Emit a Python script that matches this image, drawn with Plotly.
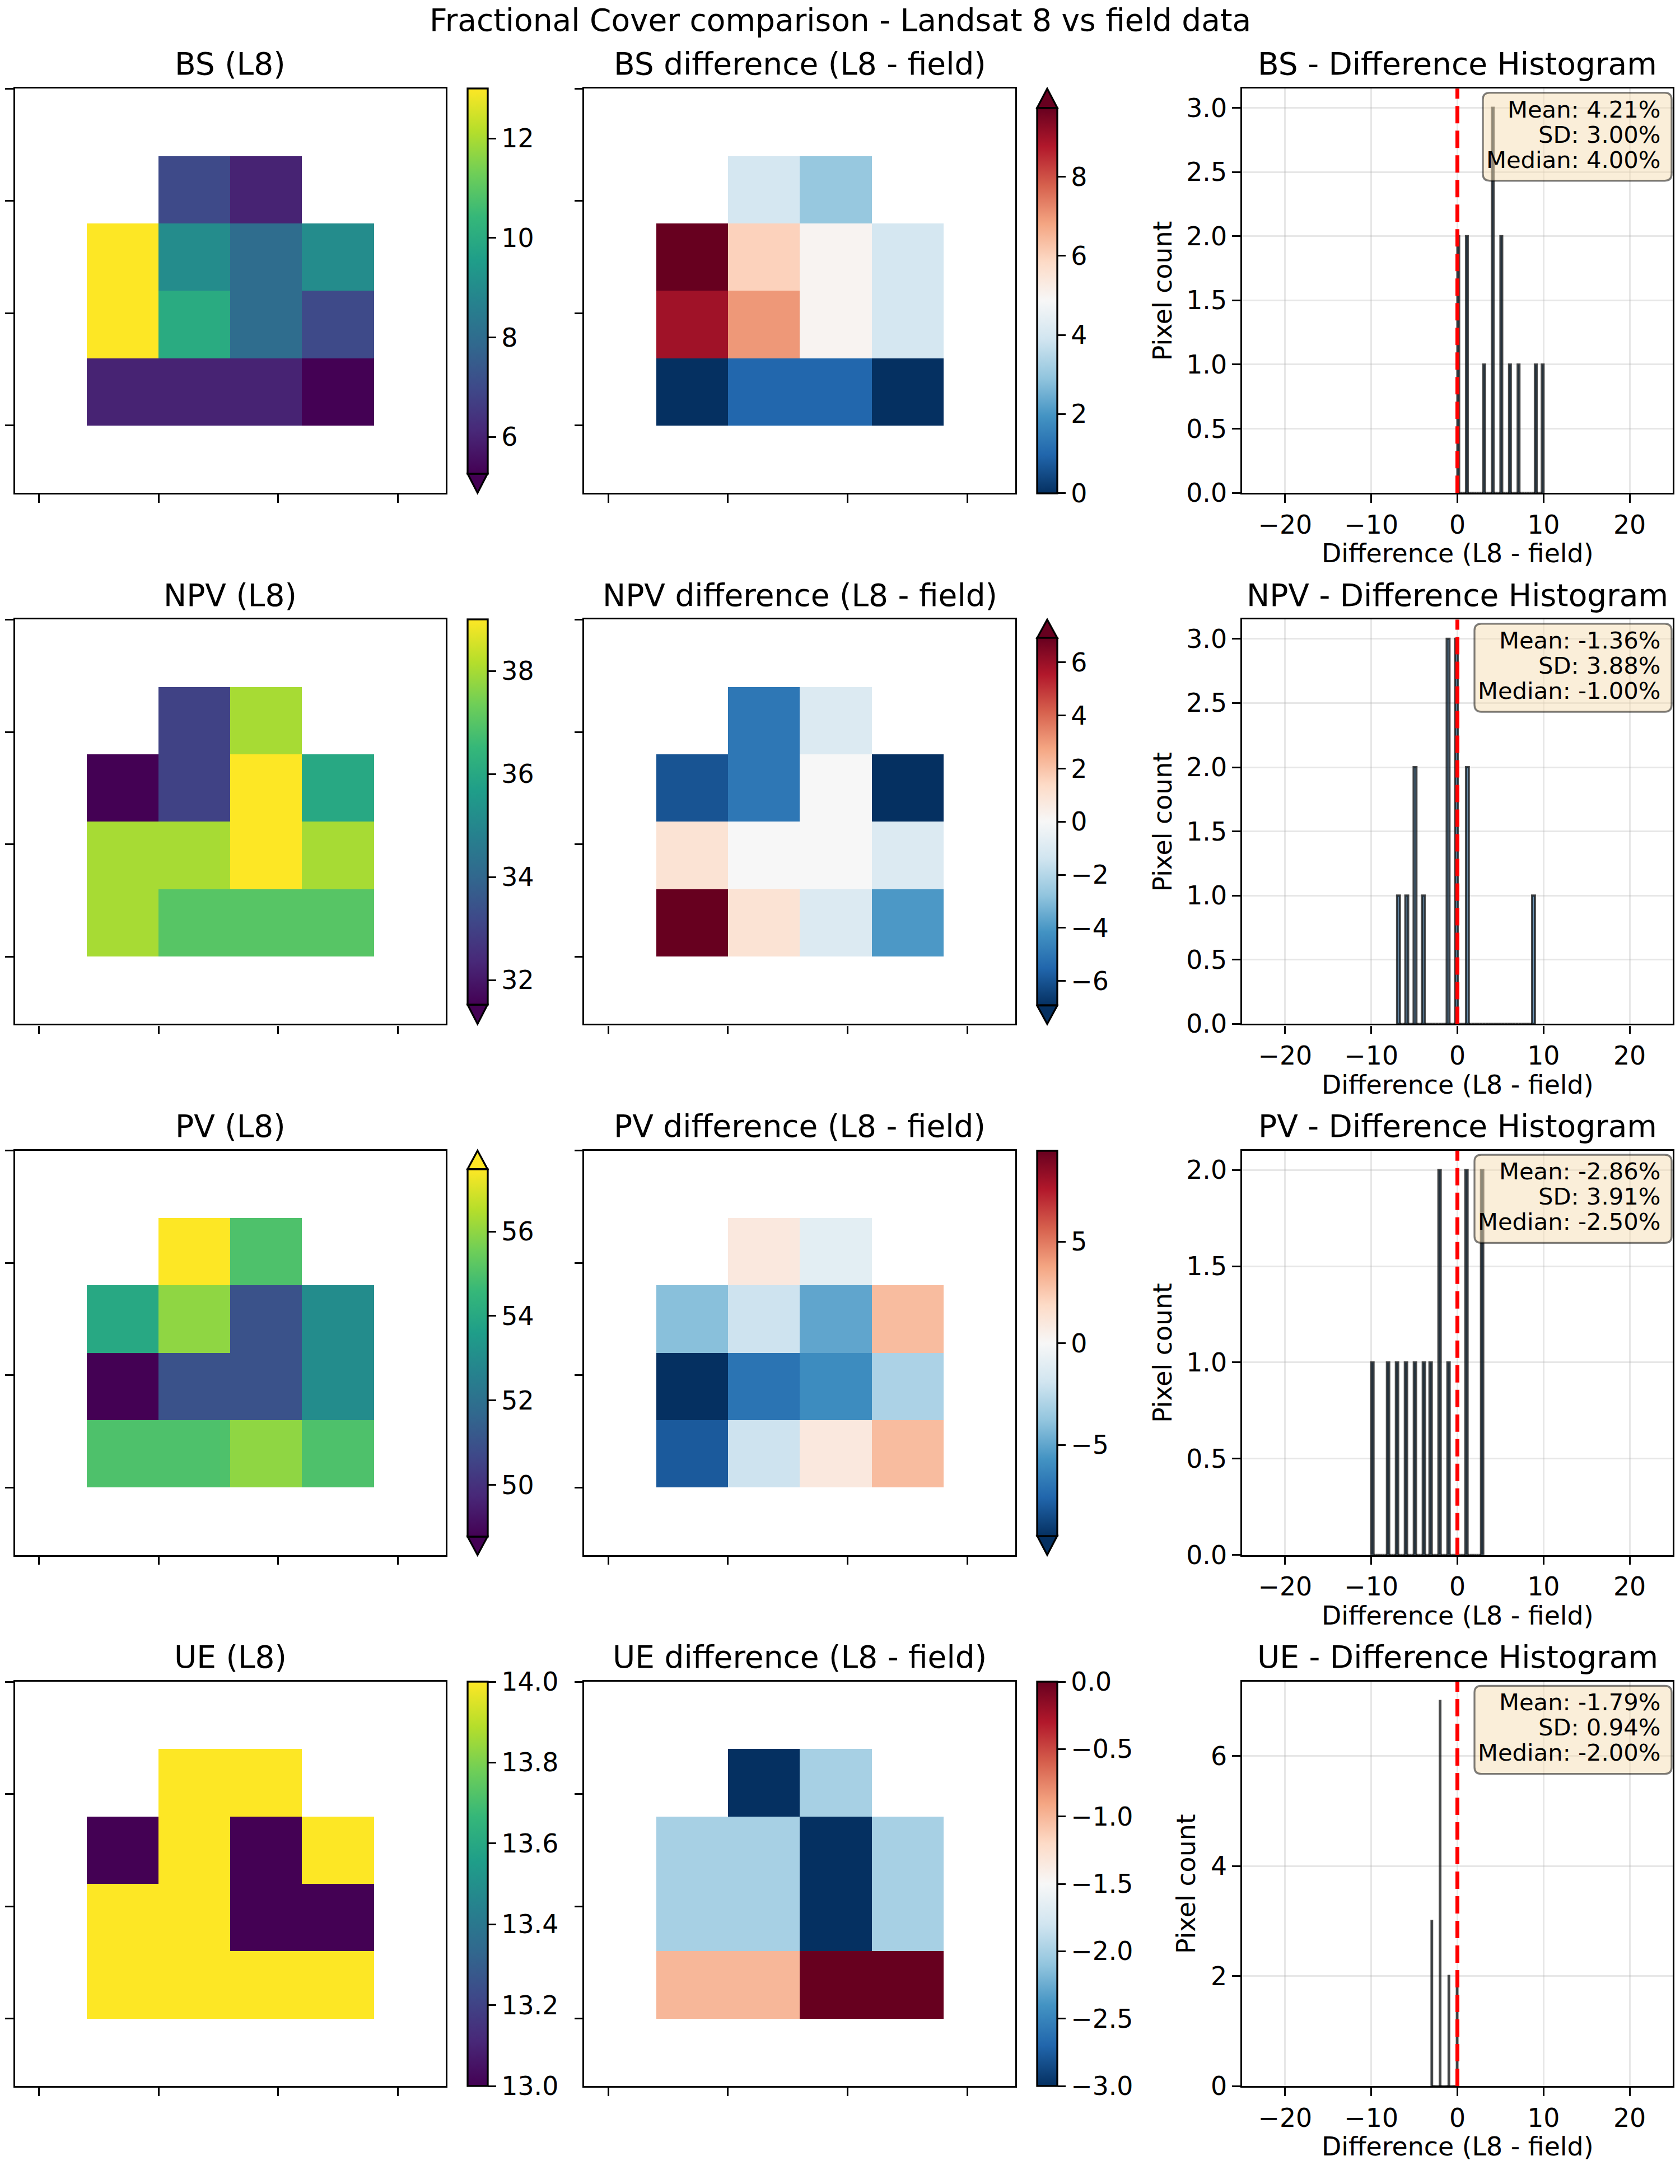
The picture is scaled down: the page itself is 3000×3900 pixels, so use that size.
import numpy as np
import plotly.graph_objects as go

W, H = 3000, 3900
FONT = "DejaVu Sans"
N = None

# ---------------- data ----------------
components = ["BS", "NPV", "PV", "UE"]

bs_l8 = [[N, N, N, N, N, N],
         [N, N, 7, 6, N, N],
         [N, 13, 9, 8, 9, N],
         [N, 13, 10, 8, 7, N],
         [N, 6, 6, 6, 5, N],
         [N, N, N, N, N, N]]
bs_diff = [[N, N, N, N, N, N],
           [N, N, 4, 3, N, N],
           [N, 10, 6, 5, 4, N],
           [N, 9, 7, 5, 4, N],
           [N, 0, 1, 1, 0, N],
           [N, N, N, N, N, N]]
npv_l8 = [[N, N, N, N, N, N],
          [N, N, 33, 38, N, N],
          [N, 31, 33, 39, 36, N],
          [N, 38, 38, 39, 38, N],
          [N, 38, 37, 37, 37, N],
          [N, N, N, N, N, N]]
npv_diff = [[N, N, N, N, N, N],
            [N, N, -5, -1, N, N],
            [N, -6, -5, 0, -7, N],
            [N, 1, 0, 0, -1, N],
            [N, 9, 1, -1, -4, N],
            [N, N, N, N, N, N]]
pv_l8 = [[N, N, N, N, N, N],
         [N, N, 58, 55, N, N],
         [N, 54, 56, 51, 53, N],
         [N, 48, 51, 51, 53, N],
         [N, 55, 55, 56, 55, N],
         [N, N, N, N, N, N]]
pv_diff = [[N, N, N, N, N, N],
           [N, N, 1, -1, N, N],
           [N, -4, -2, -5, 3, N],
           [N, -10, -7, -6, -3, N],
           [N, -8, -2, 1, 3, N],
           [N, N, N, N, N, N]]
ue_l8 = [[N, N, N, N, N, N],
         [N, N, 14, 14, N, N],
         [N, 13, 14, 13, 14, N],
         [N, 14, 14, 13, 13, N],
         [N, 14, 14, 14, 14, N],
         [N, N, N, N, N, N]]
ue_diff = [[N, N, N, N, N, N],
           [N, N, -3, -2, N, N],
           [N, -2, -2, -3, -2, N],
           [N, -2, -2, -3, -2, N],
           [N, -1, -1, 0, 0, N],
           [N, N, N, N, N, N]]

l8_grids = [bs_l8, npv_l8, pv_l8, ue_l8]
diff_grids = [bs_diff, npv_diff, pv_diff, ue_diff]

# tick labels
cb_ticks_l8 = [[6, 8, 10, 12], [32, 34, 36, 38], [50, 52, 54, 56],
               [13.0, 13.2, 13.4, 13.6, 13.8, 14.0]]
cb_ticks_diff = [[0, 2, 4, 6, 8], [-6, -4, -2, 0, 2, 4, 6], [-5, 0, 5],
                 [-3.0, -2.5, -2.0, -1.5, -1.0, -0.5, 0.0]]
cb_fmt = ["{:.0f}", "{:.0f}", "{:.0f}", "{:.1f}"]
hist_yticks = [[0, 0.5, 1.0, 1.5, 2.0, 2.5, 3.0], [0, 0.5, 1.0, 1.5, 2.0, 2.5, 3.0],
               [0, 0.5, 1.0, 1.5, 2.0], [0, 2, 4, 6]]
hist_yfmt = ["{:.1f}", "{:.1f}", "{:.1f}", "{:.0f}"]
hist_xticks = [-20, -10, 0, 10, 20]
map_xticks = [-1 / 6, 1.5, 19 / 6, 29 / 6]
map_yticks = [-0.5, 7 / 6, 17 / 6, 4.5]

# ---------------- styles / layout ----------------
VIRIDIS = ['#440154', '#482878', '#3e4989', '#31688e', '#26828e',
           '#1f9e89', '#35b779', '#6ece58', '#b5de2b', '#fde725']
RDBU_R = ['rgb(5,48,97)', 'rgb(33,102,172)', 'rgb(67,147,195)', 'rgb(146,197,222)',
          'rgb(209,229,240)', 'rgb(247,247,247)', 'rgb(253,219,199)', 'rgb(244,165,130)',
          'rgb(214,96,77)', 'rgb(178,24,43)', 'rgb(103,0,31)']


def scale(cols):
    n = len(cols) - 1
    return [[i / n, c] for i, c in enumerate(cols)]


def minus(s):
    return s.replace("-", "\u2212")


AX_H = 727.0
ROW_TOP = [159.3 + r * 954.9 for r in range(4)]
COL_X = [(26.8, 796.0), (1043.4, 1813.0), (2218.0, 2987.0)]
CB_X = [(835.0, 870.5), (1852.0, 1888.0)]
LW = 3.3
TICK_FS = 45.8
LABEL_FS = 45.8
BOX_FS = 41.7
TITLE_FS = 55
BOX_LEFT = [2648, 2633, 2633, 2633]
YLABEL_X = [2076, 2076, 2076, 2118]


def px_x(x):
    return x / W


def px_y(y):
    return 1 - y / H


fig = go.Figure()
layout = dict(width=W, height=H, margin=dict(l=0, r=0, t=0, b=0),
              paper_bgcolor='white', plot_bgcolor='white', showlegend=False,
              font=dict(family=FONT, color='black', size=TICK_FS))
shapes = []
annotations = []

annotations.append(dict(text="Fractional Cover comparison - Landsat 8 vs field data",
                        x=0.5, y=px_y(55.8 - 0.35 * TITLE_FS), xref='paper', yref='paper',
                        xanchor='center', yanchor='middle', showarrow=False,
                        font=dict(size=TITLE_FS, family=FONT, color='black')))


def cbar_geom(top, ext):
    n = (ext in ('min', 'both')) + (ext in ('max', 'both'))
    body = AX_H / (1 + 0.05 * n)
    tri = body * 0.05
    btop = top + (tri if ext in ('max', 'both') else 0)
    return btop, body, tri


for r, comp in enumerate(components):
    top = ROW_TOP[r]
    bot = top + AX_H
    ydom = [px_y(bot), px_y(top)]
    panels = [(l8_grids[r], False, VIRIDIS, f"{comp} (L8)", cb_ticks_l8[r]),
              (diff_grids[r], True, RDBU_R, f"{comp} difference (L8 - field)", cb_ticks_diff[r])]
    for c, (grid, is_diff, cols, title, cticks) in enumerate(panels):
        k = r * 3 + c + 1
        vals = np.array([v for row in grid for v in row if v is not None], dtype=float)
        lo, hi = np.percentile(vals, [2, 98])
        if is_diff and lo < 0 < hi:
            m = max(abs(lo), abs(hi))
            lo, hi = -m, m
        ext_min = vals.min() < lo
        ext_max = vals.max() > hi
        ext = 'both' if (ext_min and ext_max) else 'min' if ext_min else 'max' if ext_max else 'neither'
        btop, blen, tri = cbar_geom(top, ext)
        cx0, cx1 = CB_X[c]
        fig.add_trace(go.Heatmap(
            z=grid, x=list(range(6)), y=list(range(6)),
            xaxis=f"x{k}", yaxis=f"y{k}", colorscale=scale(cols), zmin=lo, zmax=hi,
            hoverongaps=False,
            colorbar=dict(x=px_x(cx0), xanchor='left', y=px_y(btop), yanchor='top',
                          len=blen / H, lenmode='fraction', thickness=cx1 - cx0,
                          thicknessmode='pixels', xpad=0, ypad=0,
                          outlinewidth=LW, outlinecolor='black',
                          ticks='outside', ticklen=14, tickwidth=LW, tickcolor='black',
                          tickvals=cticks, ticktext=[minus(cb_fmt[r].format(t)) for t in cticks],
                          tickfont=dict(size=TICK_FS, family=FONT, color='black'))))
        # extension triangles
        xm = (cx0 + cx1) / 2
        if ext in ('min', 'both'):
            yb = btop + blen
            shapes.append(dict(type='path', xref='paper', yref='paper',
                               path=f"M {px_x(cx0)},{px_y(yb)} L {px_x(cx1)},{px_y(yb)} L {px_x(xm)},{px_y(yb + tri)} Z",
                               fillcolor=cols[0], line=dict(color='black', width=LW)))
        if ext in ('max', 'both'):
            shapes.append(dict(type='path', xref='paper', yref='paper',
                               path=f"M {px_x(cx0)},{px_y(btop)} L {px_x(cx1)},{px_y(btop)} L {px_x(xm)},{px_y(btop - tri)} Z",
                               fillcolor=cols[-1], line=dict(color='black', width=LW)))
        x0, x1 = COL_X[c]
        layout[f"xaxis{k}"] = dict(domain=[px_x(x0), px_x(x1)], anchor=f"y{k}", range=[-0.5, 5.5],
                                   showline=True, mirror=True, linecolor='black', linewidth=LW,
                                   ticks='outside', ticklen=14.6, tickwidth=LW, tickcolor='black',
                                   tickvals=map_xticks, showticklabels=False, showgrid=False, zeroline=False)
        layout[f"yaxis{k}"] = dict(domain=ydom, anchor=f"x{k}", range=[5.5, -0.5],
                                   showline=True, mirror=True, linecolor='black', linewidth=LW,
                                   ticks='outside', ticklen=14.6, tickwidth=LW, tickcolor='black',
                                   tickvals=map_yticks, showticklabels=False, showgrid=False, zeroline=False)
        annotations.append(dict(text=title, x=px_x((x0 + x1) / 2), y=px_y(top - 25 - 0.35 * TITLE_FS),
                                xref='paper', yref='paper', xanchor='center', yanchor='middle',
                                showarrow=False, font=dict(size=TITLE_FS, family=FONT, color='black')))

    # histogram
    k = r * 3 + 3
    d = np.array([v for row in diff_grids[r] for v in row if v is not None], dtype=float)
    counts, edges = np.histogram(d, bins=50)
    centers = (edges[:-1] + edges[1:]) / 2
    fig.add_trace(go.Bar(x=centers, y=counts, width=edges[1] - edges[0],
                         marker=dict(color='rgba(70,130,180,0.7)',
                                     line=dict(color='rgba(0,0,0,0.7)', width=4)),
                         xaxis=f"x{k}", yaxis=f"y{k}", hoverinfo='skip'))
    x0, x1 = COL_X[2]
    ymax = counts.max() * 1.05
    layout[f"xaxis{k}"] = dict(domain=[px_x(x0), px_x(x1)], anchor=f"y{k}", range=[-25, 25],
                               showline=True, mirror=True, linecolor='black', linewidth=LW,
                               ticks='outside', ticklen=14.6, tickwidth=LW, tickcolor='black',
                               tickvals=hist_xticks, ticktext=[minus(str(t)) for t in hist_xticks],
                               tickfont=dict(size=TICK_FS, family=FONT, color='black'),
                               showgrid=True, gridcolor='rgba(176,176,176,0.3)', gridwidth=LW,
                               zeroline=False)
    layout[f"yaxis{k}"] = dict(domain=ydom, anchor=f"x{k}", range=[0, ymax],
                               showline=True, mirror=True, linecolor='black', linewidth=LW,
                               ticks='outside', ticklen=14.6, tickwidth=LW, tickcolor='black',
                               tickvals=hist_yticks[r],
                               ticktext=[hist_yfmt[r].format(t) for t in hist_yticks[r]],
                               tickfont=dict(size=TICK_FS, family=FONT, color='black'),
                               showgrid=True, gridcolor='rgba(176,176,176,0.3)', gridwidth=LW,
                               zeroline=False)
    shapes.append(dict(type='line', xref=f"x{k}", yref=f"y{k} domain", x0=0, x1=0, y0=0, y1=1,
                       line=dict(color='red', width=7, dash='31px,13px')))
    # stats box
    bx0, bx1 = BOX_LEFT[r], 2985.0
    by0, by1 = top + 7.4, top + 165.7
    rad = 12
    rx, ry = rad / W, rad / H
    X0, X1, Y0, Y1 = px_x(bx0), px_x(bx1), px_y(by0), px_y(by1)
    path = (f"M {X0 + rx},{Y0} L {X1 - rx},{Y0} Q {X1},{Y0} {X1},{Y0 - ry} "
            f"L {X1},{Y1 + ry} Q {X1},{Y1} {X1 - rx},{Y1} L {X0 + rx},{Y1} "
            f"Q {X0},{Y1} {X0},{Y1 + ry} L {X0},{Y0 - ry} Q {X0},{Y0} {X0 + rx},{Y0} Z")
    shapes.append(dict(type='path', xref='paper', yref='paper', path=path,
                       fillcolor='rgba(245,222,179,0.5)', line=dict(color='rgba(0,0,0,0.5)', width=LW)))
    lines = [f"Mean: {d.mean():.2f}%", f"SD: {d.std():.2f}%", f"Median: {np.median(d):.2f}%"]
    for i, txt in enumerate(lines):
        base = top + 51.7 + i * 45.35
        annotations.append(dict(text=txt, x=px_x(2967), y=px_y(base - 0.35 * BOX_FS),
                                xref='paper', yref='paper', xanchor='right', yanchor='middle',
                                showarrow=False, font=dict(size=BOX_FS, family=FONT, color='black')))
    annotations.append(dict(text=f"{components[r]} - Difference Histogram", x=px_x((x0 + x1) / 2),
                            y=px_y(top - 25 - 0.35 * TITLE_FS), xref='paper', yref='paper',
                            xanchor='center', yanchor='middle', showarrow=False,
                            font=dict(size=TITLE_FS, family=FONT, color='black')))
    annotations.append(dict(text="Difference (L8 - field)", x=px_x((x0 + x1) / 2),
                            y=px_y(bot + 125 - 0.35 * LABEL_FS), xref='paper', yref='paper',
                            xanchor='center', yanchor='middle', showarrow=False,
                            font=dict(size=LABEL_FS, family=FONT, color='black')))
    annotations.append(dict(text="Pixel count", x=px_x(YLABEL_X[r]), y=px_y((top + bot) / 2),
                            xref='paper', yref='paper', xanchor='center', yanchor='middle',
                            textangle=-90, showarrow=False,
                            font=dict(size=LABEL_FS, family=FONT, color='black')))

layout['shapes'] = shapes
layout['annotations'] = annotations
fig.update_layout(**layout)
fig.write_html("out.html")
